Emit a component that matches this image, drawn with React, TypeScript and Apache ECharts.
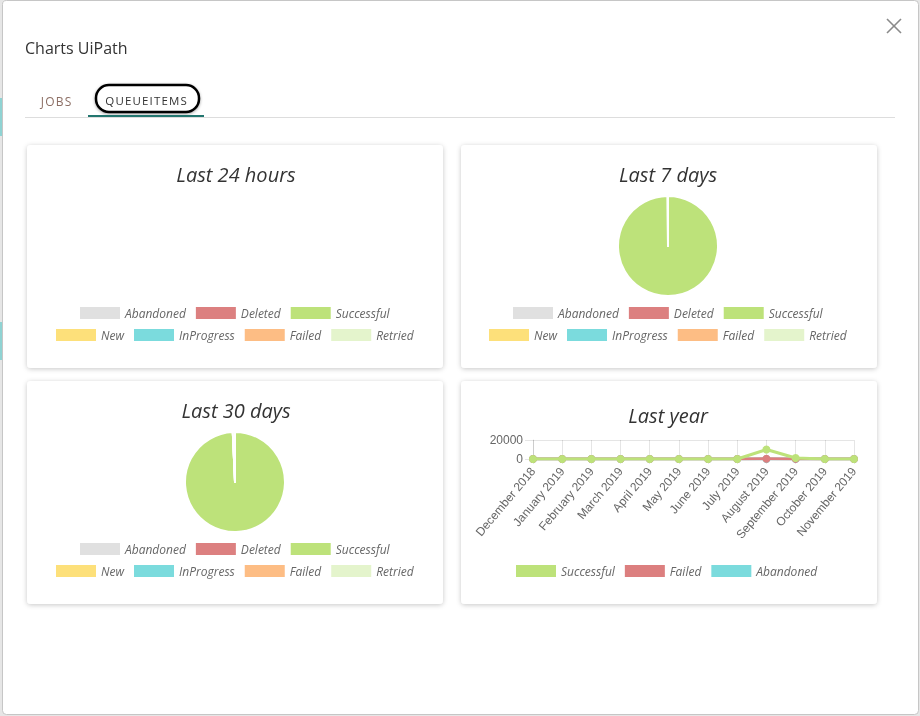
import React, { useEffect, useRef } from "react";
import * as echarts from "echarts";

// ---- data ----
const pieLegendRow1 = ["Abandoned", "Deleted", "Successful"];
const pieLegendRow2 = ["New", "InProgress", "Failed", "Retried"];
const pieNames = ["Abandoned", "Deleted", "Successful", "New", "InProgress", "Failed", "Retried"];
const last7Values = [0, 0, 4210, 0, 0, 3, 0];
const last30Values = [0, 0, 12600, 0, 0, 0, 90];

const months = [
  "December 2018", "January 2019", "February 2019", "March 2019", "April 2019", "May 2019",
  "June 2019", "July 2019", "August 2019", "September 2019", "October 2019", "November 2019",
];
const lineSeriesNames = ["Successful", "Failed", "Abandoned"];
const successfulValues = [0, 0, 0, 0, 0, 0, 0, 0, 10000, 1000, 0, 0];
const failedValues = [0, 0, 0, 0, 0, 0, 0, 0, 200, 100, 0, 0];
const abandonedValues = [0, 0, 0, 0, 0, 0, 0, 0, 0, 0, 0, 0];
const yTicks = [0, 20000];

// ---- styles ----
const pieColors: Record<string, string> = {
  Abandoned: "#e0e0e0",
  Deleted: "#dc8080",
  Successful: "#bde27a",
  New: "#fde07a",
  InProgress: "#7bdbdd",
  Failed: "#fdbd84",
  Retried: "#e4f4cc",
};
const lineColors = ["#bde27a", "#dc7f7f", "#7bdbdd"];
const FONT = "'Open Sans', sans-serif";
const HS = "\u200A";

export default function App() {
  const ref = useRef<HTMLDivElement>(null);
  useEffect(() => {
    document.body.style.margin = "0";
    const chart = echarts.init(ref.current!, undefined, { renderer: "svg" });

    const legendText = { fontFamily: FONT, fontStyle: "italic" as const, fontSize: 12, color: "#666" };
    const mkLegend = (names: string[], left: number, top: number, colors: Record<string, string>) => ({
      left,
      top,
      padding: 0,
      orient: "horizontal",
      itemWidth: 40,
      itemHeight: 12,
      itemGap: 10,
      icon: "rect",
      selectedMode: false,
      textStyle: legendText,
      data: names.map((n) => ({ name: n, icon: "rect", itemStyle: { color: colors[n], borderWidth: 0 } })),
    });
    const lineColorMap: Record<string, string> = {};
    lineSeriesNames.forEach((n, i) => (lineColorMap[n] = lineColors[i]));

    const titleStyle = { fontFamily: FONT, fontStyle: "italic" as const, fontWeight: "normal" as const, fontSize: 20, color: "#333" };
    const mkTitle = (text: string, x: number, y: number) => ({
      text,
      left: x,
      top: y,
      textAlign: "center",
      padding: 0,
      textStyle: titleStyle,
    });

    const card = (x: number, y: number) => ({
      type: "rect",
      shape: { x, y, width: 416, height: 223, r: 4 },
      style: { fill: "#fff", shadowBlur: 5, shadowOffsetY: 1, shadowColor: "rgba(0,0,0,0.22)" },
      z: -5,
    });

    const pieSeries = (values: number[], cx: number, cy: number) => ({
      type: "pie",
      center: [cx, cy],
      radius: [0, 50],
      startAngle: 90,
      clockwise: true,
      label: { show: false },
      labelLine: { show: false },
      emphasis: { disabled: true },
      silent: true,
      itemStyle: { borderColor: "#fff", borderWidth: 2 },
      data: pieNames.map((n, i) => ({ name: n, value: values[i], itemStyle: { color: pieColors[n] } })),
    });

    const axisFont = { fontFamily: "'Liberation Sans', Arial, sans-serif", fontSize: 12, color: "#666" };
    const lineData = [successfulValues, failedValues, abandonedValues];

    chart.setOption({
      animation: false,
      graphic: [
        { type: "rect", shape: { x: 0, y: 0, width: 920, height: 716 }, style: { fill: "#e6e6e6" }, z: -20 },
        { type: "rect", shape: { x: 0, y: 98, width: 3, height: 38 }, style: { fill: "#8fd3d3" }, z: -19 },
        { type: "rect", shape: { x: 0, y: 322, width: 3, height: 38 }, style: { fill: "#8fd3d3" }, z: -19 },
        {
          type: "rect",
          shape: { x: 2.5, y: 0.5, width: 916, height: 714, r: 4 },
          style: { fill: "#fff", stroke: "#c6c6c6", lineWidth: 1 },
          z: -18,
        },
        {
          type: "text",
          x: 25,
          y: 48,
          style: { text: "Charts UiPath", font: `16px ${FONT}`, fill: "#333", verticalAlign: "middle" },
          z: -10,
        },
        { type: "line", shape: { x1: 887, y1: 19, x2: 901, y2: 33 }, style: { stroke: "#8a8a8a", lineWidth: 1.6 }, z: -10 },
        { type: "line", shape: { x1: 901, y1: 19, x2: 887, y2: 33 }, style: { stroke: "#8a8a8a", lineWidth: 1.6 }, z: -10 },
        {
          type: "text",
          x: 56,
          y: 101,
          style: { text: ["J", "O", "B", "S"].join(HS), font: `12px ${FONT}`, fill: "#8c6e64", align: "center", verticalAlign: "middle" },
          z: -10,
        },
        {
          type: "rect",
          shape: { x: 96, y: 85, width: 103, height: 27, r: 13 },
          style: { fill: "#fff", stroke: "#000", lineWidth: 2.5, shadowBlur: 3, shadowOffsetY: 1, shadowColor: "rgba(0,0,0,0.35)" },
          z: -10,
        },
        {
          type: "text",
          x: 146,
          y: 100,
          style: { text: "QUEUEITEMS".split("").join(HS), font: `11.5px ${FONT}`, fill: "#333", align: "center", verticalAlign: "middle" },
          z: -9,
        },
        { type: "rect", shape: { x: 25, y: 117, width: 870, height: 1 }, style: { fill: "#dddddd" }, z: -10 },
        { type: "rect", shape: { x: 88, y: 115, width: 116, height: 2 }, style: { fill: "#22766f" }, z: -9 },
        card(27, 145),
        card(461, 145),
        card(27, 381),
        card(461, 381),
      ],
      title: [
        mkTitle("Last 24 hours", 236, 164),
        mkTitle("Last 7 days", 668, 164),
        mkTitle("Last 30 days", 236, 400),
        mkTitle("Last year", 668, 405),
      ],
      legend: [
        mkLegend(pieLegendRow1, 80, 307, pieColors),
        mkLegend(pieLegendRow2, 56, 329, pieColors),
        mkLegend(pieLegendRow1, 513, 307, pieColors),
        mkLegend(pieLegendRow2, 489, 329, pieColors),
        mkLegend(pieLegendRow1, 80, 543, pieColors),
        mkLegend(pieLegendRow2, 56, 565, pieColors),
        mkLegend(lineSeriesNames, 516, 565, lineColorMap),
      ],
      grid: { left: 533, top: 440, width: 321, height: 19, containLabel: false },
      xAxis: {
        type: "category",
        data: months,
        boundaryGap: false,
        axisLine: { show: true, lineStyle: { color: "rgba(0,0,0,0.18)" } },
        axisTick: { show: true, length: 5, alignWithLabel: true, lineStyle: { color: "rgba(0,0,0,0.1)" } },
        axisLabel: { ...axisFont, rotate: 50, margin: 10, interval: 0 },
        splitLine: { show: true, lineStyle: { color: "rgba(0,0,0,0.1)" } },
      },
      yAxis: {
        type: "value",
        min: yTicks[0],
        max: yTicks[yTicks.length - 1],
        interval: yTicks[1] - yTicks[0],
        axisLine: { show: true, lineStyle: { color: "rgba(0,0,0,0.1)" } },
        axisTick: { show: true, length: 8, lineStyle: { color: "rgba(0,0,0,0.1)" } },
        axisLabel: { ...axisFont, margin: 10, formatter: (v: number) => String(v) },
        splitLine: { show: true, lineStyle: { color: "rgba(0,0,0,0.1)" } },
      },
      series: [
        pieSeries(last7Values, 668, 246),
        pieSeries(last30Values, 235, 482),
        ...lineSeriesNames.map((n, i) => ({
          type: "line",
          name: n,
          data: lineData[i],
          z: 10 - i,
          symbol: "circle",
          symbolSize: 8,
          showSymbol: true,
          silent: true,
          lineStyle: { color: lineColors[i], width: 3 },
          itemStyle: { color: lineColors[i] },
        })),
      ],
    });
    return () => chart.dispose();
  }, []);
  return <div ref={ref} style={{ position: "fixed", left: 0, top: 0, width: 920, height: 716 }} />;
}
